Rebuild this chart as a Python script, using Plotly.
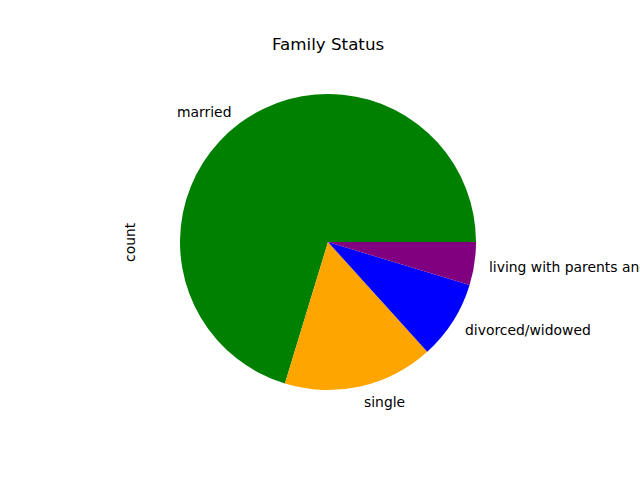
import math
import plotly.graph_objects as go

categories = ["married", "single", "divorced/widowed", "living with parents and relatives"]
counts = [703, 164, 86, 47]
colors = ["#008000", "#FFA500", "#0000FF", "#800080"]
title_text = "Family Status"
ylabel = "count"

W, H = 640, 480
cx, cy, r = 328, 242, 148  # pie centre / radius in px (from top-left)

total = sum(counts)
# plotly (counterclockwise) ends the first slice at `rotation`; make it start at 3 o'clock
rot = 90 - 360 * counts[0] / total

fig = go.Figure(go.Pie(
    labels=categories, values=counts, sort=False,
    direction="counterclockwise", rotation=rot,
    marker=dict(colors=colors, line=dict(width=0)),
    textinfo="none", hoverinfo="label+value", showlegend=False,
    domain=dict(x=[(cx - r) / W, (cx + r) / W],
                y=[(H - cy - r) / H, (H - cy + r) / H]),
))

anns = []
start = 0.0
font = dict(family="DejaVu Sans", size=13.9, color="black")
for lab, v in zip(categories, counts):
    ang = start + 360 * v / total / 2
    start += 360 * v / total
    a = math.radians(ang)
    x = cx + 1.1 * r * math.cos(a)
    y = cy - 1.1 * r * math.sin(a)
    right = math.cos(a) >= 0
    anns.append(dict(x=x / W, y=1 - y / H, xref="paper", yref="paper",
                     text=lab, showarrow=False, font=font,
                     xanchor="left" if right else "right",
                     xshift=-2 if right else 2, yshift=-1,
                     yanchor="middle"))

anns.append(dict(x=328 / W, y=1 - 44 / H, xref="paper", yref="paper",
                 text=title_text, showarrow=False,
                 font=dict(family="DejaVu Sans", size=16.7, color="black"),
                 xanchor="center", yanchor="middle"))
anns.append(dict(x=130 / W, y=1 - 242 / H, xref="paper", yref="paper",
                 text=ylabel, showarrow=False, textangle=-90, font=font,
                 xanchor="center", yanchor="middle"))

fig.update_layout(width=W, height=H, margin=dict(l=0, r=0, t=0, b=0),
                  paper_bgcolor="white", plot_bgcolor="white",
                  annotations=anns)
fig.write_html("out.html", config={"displayModeBar": False},
               post_script="document.body.style.margin='0';")
